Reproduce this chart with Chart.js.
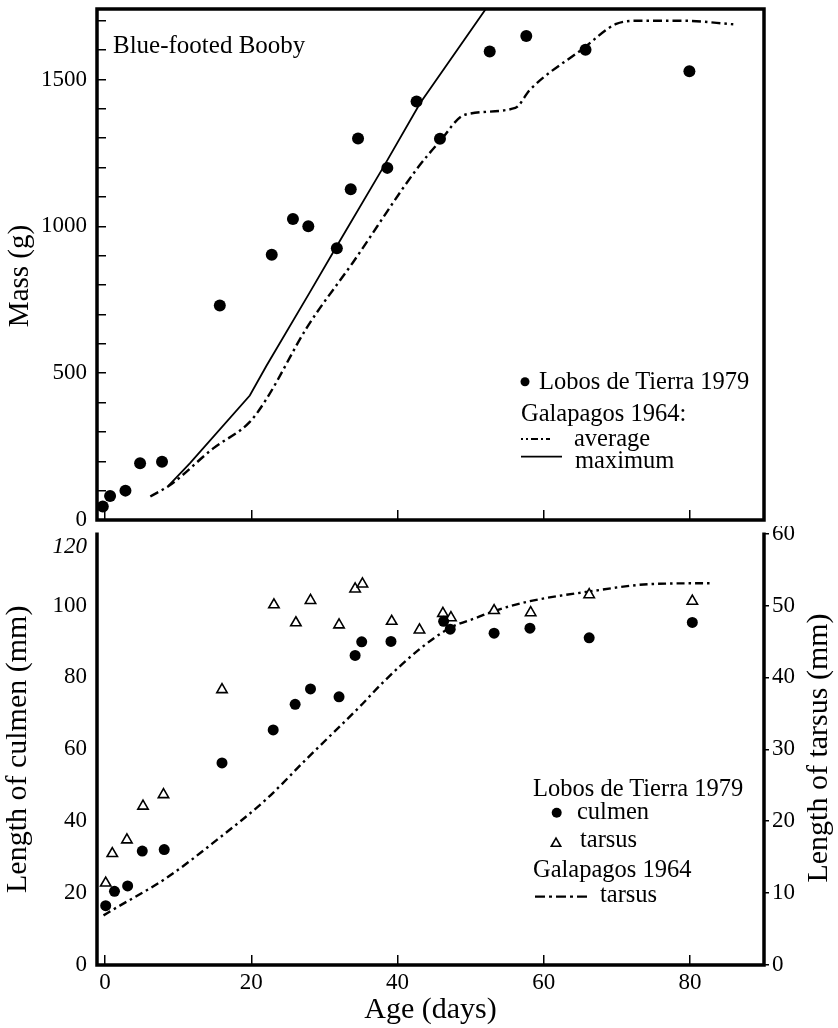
<!DOCTYPE html>
<html><head><meta charset="utf-8">
<script src="https://cdn.jsdelivr.net/npm/chart.js@4.4.1/dist/chart.umd.min.js"></script>
<style>
html,body{margin:0;padding:0;background:#fff;}
#wrap{position:relative;width:838px;height:1028px;overflow:hidden;background:#fff;font-family:'Liberation Serif',serif;color:#000;}
canvas{position:absolute;left:0;}
.t{position:absolute;white-space:nowrap;line-height:1;font-size:24.5px;}
.r{position:absolute;white-space:nowrap;line-height:1;transform:translate(-50%,-50%) rotate(-90deg);}
svg{position:absolute;left:0;top:0;}
</style></head><body>
<div id="wrap">
<canvas id="mass" width="838" height="526" style="top:0"></canvas>
<canvas id="len" width="838" height="502" style="top:526px"></canvas>
<svg width="838" height="1028">
  <circle cx="525" cy="381.7" r="4.5" fill="#000"/>
  <line x1="521" y1="439" x2="550" y2="439" stroke="#000" stroke-width="2.2" stroke-dasharray="2 3 2 3 7 3 2 3 7"/>
  <line x1="521" y1="456.7" x2="562" y2="456.7" stroke="#000" stroke-width="1.8"/>
  <circle cx="556.7" cy="812.7" r="5" fill="#000"/>
  <polygon points="556,838.2 551.3,846.3 560.7,846.3" fill="#fff" stroke="#000" stroke-width="1.6"/>
  <line x1="535" y1="896.7" x2="587" y2="896.7" stroke="#000" stroke-width="2.2" stroke-dasharray="10 4 3 4"/>
</svg>
<div class="t" style="left:113px;top:32px;font-size:25px">Blue-footed Booby</div>
<div class="t" style="left:539px;top:369px">Lobos de Tierra 1979</div>
<div class="t" style="left:521px;top:401px">Galapagos 1964:</div>
<div class="t" style="left:574px;top:426px">average</div>
<div class="t" style="left:575px;top:448px">maximum</div>
<div class="t" style="left:533px;top:776px">Lobos de Tierra 1979</div>
<div class="t" style="left:577px;top:799px">culmen</div>
<div class="t" style="left:580px;top:827px">tarsus</div>
<div class="t" style="left:533px;top:857px">Galapagos 1964</div>
<div class="t" style="left:600px;top:882px">tarsus</div>
<div class="r" style="left:18px;top:276px;font-size:29px">Mass (g)</div>
<div class="r" style="left:817px;top:748px;font-size:30px">Length of tarsus (mm)</div>
</div>
<script>
// ---- data ----
const ageTicks = [0, 20, 40, 60, 80];
const massTicks = [0, 100, 200, 300, 400, 500, 600, 700, 800, 900, 1000, 1100, 1200, 1300, 1400, 1500, 1600, 1700];
const massTickLabels = [0, 500, 1000, 1500];
const culmenTicks = [0, 20, 40, 60, 80, 100, 120];
const tarsusTicks = [0, 10, 20, 30, 40, 50, 60];

// Lobos de Tierra 1979 mass (g)
const massAge = [-0.3, 0.7, 2.8, 4.8, 7.8, 15.7, 22.8, 25.7, 27.8, 31.7, 33.6, 34.6, 38.6, 42.6, 45.8, 52.6, 57.6, 65.7, 79.9];
const massValue = [46, 82, 100, 193, 198, 730, 903, 1025, 1000, 925, 1126, 1299, 1199, 1425, 1298, 1595, 1648, 1601, 1528];

// Galapagos 1964 average mass
const avgAge = [6.2, 8.9, 14.8, 19.8, 22.1, 27.6, 33.9, 42.6, 45.8, 49.2, 56.1, 58.1, 65.4, 69.9, 73.1, 79.1, 85.9];
const avgMass = [80, 119, 244, 334, 413, 655, 877, 1194, 1290, 1380, 1403, 1465, 1606, 1689, 1700, 1700, 1688];

// Galapagos 1964 maximum mass
const maxAge = [8.7, 11.6, 19.8, 22.1, 28.0, 31.7, 38.0, 43.1, 52.2];
const maxMass = [117, 193, 424, 526, 775, 933, 1199, 1420, 1745];

// Lobos de Tierra 1979 culmen (mm, left axis)
const culmenAge = [0.1, 1.3, 3.1, 5.1, 8.1, 16.0, 23.0, 26.0, 28.1, 32.0, 34.2, 35.1, 39.1, 46.3, 47.2, 53.2, 58.1, 66.2, 80.3];
const culmenLen = [16.5, 20.5, 22.0, 31.7, 32.1, 56.2, 65.4, 72.5, 76.8, 74.6, 86.1, 89.9, 90.0, 95.6, 93.4, 92.3, 93.7, 91.0, 95.3];

// Lobos de Tierra 1979 tarsus (mm, right axis)
const tarsusAge = [0.1, 1.0, 3.0, 5.2, 8.0, 16.0, 23.1, 26.1, 28.1, 32.0, 34.2, 35.2, 39.2, 43.0, 46.2, 47.3, 53.2, 58.2, 66.2, 80.3];
const tarsusLen = [11.4, 15.5, 17.4, 22.1, 23.7, 38.3, 50.1, 47.6, 50.7, 47.3, 52.3, 53.0, 47.8, 46.6, 48.9, 48.3, 49.3, 49.0, 51.5, 50.6];

// Galapagos 1964 tarsus (mm, right axis)
const galTarsusAge = [-0.2, 1.1, 8.4, 15.3, 22.1, 27.6, 34.9, 38.1, 43.1, 47.2, 50.8, 53.1, 58.1, 65.9, 75.0, 83.2];
const galTarsusLen = [6.9, 7.7, 12.1, 17.4, 23.1, 28.7, 36.0, 39.4, 44.0, 46.9, 48.3, 49.2, 50.6, 51.9, 53.0, 53.1];

const xMin = -1.09, xMax = 90.1;

// ---- rendering ----
const pts = (xs, ys) => xs.map((x, i) => ({x: x, y: ys[i]}));
const setTicks = arr => scale => { scale.ticks = arr.map(v => ({value: v})); };
const fixW = w => s => { s.width = w; s.paddingTop = 0; s.paddingBottom = 0; };
const fixH = h => s => { s.height = h; s.paddingLeft = 0; s.paddingRight = 0; };
const FAM = "'Liberation Serif', serif";
Chart.defaults.font.family = FAM;
Chart.defaults.color = '#000';

const frame = {
  id: 'frame',
  afterDraw(chart, args, opts) {
    const {ctx, chartArea: a} = chart;
    ctx.save();
    ctx.strokeStyle = '#000';
    ctx.lineWidth = 3.5;
    ctx.lineJoin = 'miter';
    ctx.beginPath();
    ctx.moveTo(a.left, opts.top ? a.top : a.top - 1);
    ctx.lineTo(a.left, a.bottom);
    ctx.lineTo(a.right, a.bottom);
    ctx.lineTo(a.right, opts.top ? a.top : a.top - 1);
    if (opts.top) ctx.closePath();
    ctx.stroke();
    ctx.restore();
  }
};

new Chart(document.getElementById('mass'), {
  type: 'scatter',
  data: {datasets: [
    {label: 'Lobos de Tierra 1979', data: pts(massAge, massValue), pointRadius: 6, pointHoverRadius: 6,
     backgroundColor: '#000', borderWidth: 0, showLine: false},
    {label: 'Galapagos 1964: average', data: pts(avgAge, avgMass), showLine: true, borderColor: '#000',
     borderWidth: 2.4, borderDash: [9, 4, 2.5, 4], pointRadius: 0, fill: false, cubicInterpolationMode: 'monotone'},
    {label: 'Galapagos 1964: maximum', data: pts(maxAge, maxMass), showLine: true, borderColor: '#000',
     borderWidth: 1.8, pointRadius: 0, fill: false, tension: 0}
  ]},
  options: {
    responsive: false, animation: false, devicePixelRatio: 1, events: [],
    layout: {padding: {left: 0, top: 9, right: 74, bottom: 4}},
    plugins: {legend: {display: false}, tooltip: {enabled: false}, frame: {top: true}},
    scales: {
      x: {type: 'linear', position: 'bottom', min: xMin, max: xMax,
          afterBuildTicks: setTicks(ageTicks), afterFit: fixH(0),
          ticks: {display: false, autoSkip: false},
          grid: {drawOnChartArea: false, tickLength: -10, color: '#000', lineWidth: 1.5},
          border: {display: false}},
      y: {type: 'linear', position: 'left', min: 0, max: 1740,
          afterBuildTicks: setTicks(massTicks), afterFit: fixW(97),
          ticks: {color: '#000', font: {size: 23}, padding: 19, autoSkip: false,
                  callback: v => massTickLabels.includes(v) ? String(v) : ''},
          grid: {drawOnChartArea: false, tickLength: -9, color: '#000', lineWidth: 1.5},
          border: {display: false}}
    }
  },
  plugins: [frame]
});

new Chart(document.getElementById('len'), {
  type: 'scatter',
  data: {datasets: [
    {label: 'culmen', data: pts(culmenAge, culmenLen), yAxisID: 'y', pointRadius: 5.5, pointHoverRadius: 5.5,
     backgroundColor: '#000', borderWidth: 0, showLine: false},
    {label: 'tarsus', data: pts(tarsusAge, tarsusLen), yAxisID: 'y2', pointStyle: 'triangle', pointRadius: 6,
     pointHoverRadius: 6, backgroundColor: '#fff', borderColor: '#000', borderWidth: 1.6, showLine: false},
    {label: 'Galapagos 1964 tarsus', data: pts(galTarsusAge, galTarsusLen), yAxisID: 'y2', showLine: true,
     borderColor: '#000', borderWidth: 2.4, borderDash: [8, 4, 2.5, 4], pointRadius: 0, fill: false,
     cubicInterpolationMode: 'monotone'}
  ]},
  options: {
    responsive: false, animation: false, devicePixelRatio: 1, events: [],
    layout: {padding: {left: 0, top: 4, right: 0, bottom: 0}},
    plugins: {legend: {display: false}, tooltip: {enabled: false}, frame: {top: false}},
    scales: {
      x: {type: 'linear', position: 'bottom', min: xMin, max: xMax,
          afterBuildTicks: setTicks(ageTicks), afterFit: fixH(63),
          ticks: {color: '#000', font: {size: 23}, padding: 14, autoSkip: false, callback: v => String(v)},
          grid: {drawOnChartArea: false, tickLength: -10, color: '#000', lineWidth: 1.5},
          border: {display: false},
          title: {display: true, text: 'Age (days)', color: '#000', font: {size: 30}, padding: {top: 0, bottom: 0}}},
      y: {type: 'linear', position: 'left', min: 0, max: 120,
          afterBuildTicks: setTicks(culmenTicks), afterFit: fixW(97),
          ticks: {color: '#000', padding: 10, autoSkip: false,
                  font: c => ({size: 23, family: FAM, style: (c.tick && c.tick.value === 120) ? 'italic' : 'normal'}),
                  callback: (v, i, arr) => i === arr.length - 1 ? ['', String(v)] : String(v)},
          grid: {drawOnChartArea: false, drawTicks: false},
          border: {display: false},
          title: {display: true, text: 'Length of culmen (mm)', color: '#000', font: {size: 30}, padding: {top: 0, bottom: 0}}},
      y2: {type: 'linear', position: 'right', min: 0, max: 60,
           afterBuildTicks: setTicks(tarsusTicks), afterFit: fixW(74),
           ticks: {color: '#000', font: {size: 23}, padding: 3, autoSkip: false, callback: v => String(v)},
           grid: {drawOnChartArea: false, tickLength: 5, color: '#000', lineWidth: 1.5},
           border: {display: false}}
    }
  },
  plugins: [frame]
});
</script>
</body></html>
